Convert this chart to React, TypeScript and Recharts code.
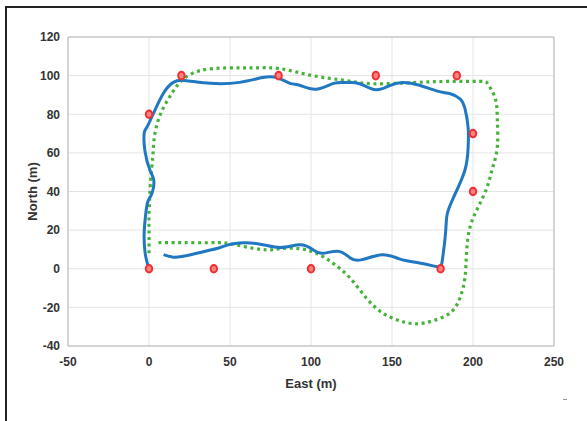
import {
  CartesianGrid,
  Label,
  ReferenceArea,
  Scatter,
  ScatterChart,
  XAxis,
  YAxis,
} from "recharts";

// estimated trajectory (blue, solid)
const trackEast = [
  0, -1.4, -2.5, -3, -2, -0.6, 1.8, 3, 0.6, -2.5, -3, -1.5, 2.5, 9, 15, 22, 38,
  56, 70, 79, 87, 93, 103, 114, 122, 130, 140, 149, 157, 167, 178, 186, 192,
  195, 197, 197, 195, 188, 184, 183, 181, 178, 167, 155, 144, 131, 124, 117,
  107, 101, 93, 81, 67, 52, 44, 36, 23, 15, 9,
];
const trackNorth = [
  0, 4, 9, 18, 28.5, 35, 39, 45.6, 51, 61, 70, 73, 80, 91, 96.5, 97.5, 96,
  96.5, 99, 99, 96, 95, 93, 96, 96.4, 95.8, 92.7, 95, 96.4, 95, 92, 90.6, 88,
  83, 73, 63, 51, 37, 28, 18, 4, 1, 3, 5, 7.3, 4.6, 5.7, 9, 8, 10, 12.4, 11,
  13, 13, 11, 9.3, 6.7, 6, 7.3,
];

// planned path (green, dotted)
const pathEast = [
  0, 0, 0, 1, 2.3, 3, 5, 9, 15, 21, 31.5, 48, 64, 81, 101, 122, 138, 163, 184,
  204, 209, 213.6, 215, 215, 212, 208.6, 203, 198, 196, 195, 192, 186, 175,
  165, 155, 144, 134, 124, 114, 104, 93, 81, 69, 50, 39.5, 20, 5.6,
];
const pathNorth = [
  8, 20, 28, 45.6, 57.5, 66, 75, 83.5, 92, 98, 102.6, 104, 104, 103.6, 100,
  97.4, 95.8, 96.4, 97, 97, 95.8, 88.6, 78, 63, 52, 42, 31.6, 21, 7.8, -4.7,
  -15, -22.8, -27, -28.5, -27, -22.8, -15, -4.7, 2.6, 7.8, 10.4, 10.4, 10, 13,
  13.5, 13.5, 13.5,
];

// waypoints (red)
const wpEast = [0, 40, 100, 180, 0, 20, 80, 140, 190, 200, 200];
const wpNorth = [0, 0, 0, 0, 80, 100, 100, 100, 100, 70, 40];

const xTicks = [-50, 0, 50, 100, 150, 200, 250];
const yTicks = [-40, -20, 0, 20, 40, 60, 80, 100, 120];

const toPoints = (xs: number[], ys: number[]) =>
  xs.map((x, i) => ({ x, y: ys[i] }));

const track = toPoints(trackEast, trackNorth);
const path = toPoints(pathEast, pathNorth);
const waypoints = toPoints(wpEast, wpNorth);

const FONT = "'Liberation Sans', Arial, sans-serif";
const TEXT = "#333333";
const BLUE = "#1f78c1";
const GREEN = "#45b23a";
const RED = "#f03030";

const tickStyle = { fill: TEXT, fontSize: 12, fontWeight: 700, fontFamily: FONT };

function Waypoint(props: any) {
  const { cx, cy } = props;
  return (
    <ellipse
      cx={cx}
      cy={cy}
      rx={3.2}
      ry={3.8}
      fill="#ff8080"
      stroke={RED}
      strokeWidth={2}
    />
  );
}

export default function App() {
  return (
    <div
      style={{
        position: "absolute",
        left: 0,
        top: 0,
        width: 587,
        height: 421,
        background: "#fff",
        overflow: "hidden",
      }}
    >
      <div
        style={{
          position: "absolute",
          left: 5,
          top: 6,
          width: 600,
          height: 430,
          borderTop: "2px solid #222",
          borderLeft: "2px solid #222",
        }}
      />
      <div
        style={{
          position: "absolute",
          left: 563,
          top: 399,
          width: 4,
          height: 1,
          background: "#999",
        }}
      />
      <ScatterChart
        width={587}
        height={421}
        margin={{ top: 37, right: 33, left: 28, bottom: 45 }}
        style={{ position: "absolute", left: 0, top: 0 }}
      >
        <CartesianGrid stroke="#e4e4e4" strokeWidth={1} />
        <XAxis
          type="number"
          dataKey="x"
          domain={[-50, 250]}
          ticks={xTicks}
          allowDataOverflow
          height={30}
          axisLine={false}
          tickLine={false}
          tick={tickStyle}
          tickMargin={5}
        >
          <Label
            value="East (m)"
            position="insideBottom"
            offset={-12}
            style={{ fill: TEXT, fontSize: 13, fontWeight: 700, fontFamily: FONT }}
          />
        </XAxis>
        <YAxis
          type="number"
          dataKey="y"
          domain={[-40, 120]}
          ticks={yTicks}
          allowDataOverflow
          width={40}
          axisLine={false}
          tickLine={false}
          tick={tickStyle}
          tickMargin={2}
        >
          <Label
            value="North (m)"
            angle={-90}
            position="insideLeft"
            offset={4}
            style={{
              fill: TEXT,
              fontSize: 13,
              fontWeight: 700,
              fontFamily: FONT,
              textAnchor: "middle",
            }}
          />
        </YAxis>
        <ReferenceArea
          x1={-50}
          x2={250}
          y1={-40}
          y2={120}
          fill="none"
          stroke="#b8b8b8"
          strokeWidth={1}
          ifOverflow="visible"
        />
        <Scatter
          data={path}
          line={{ stroke: GREEN, strokeWidth: 3.2, strokeDasharray: "3 3.6" }}
          lineType="joint"
          lineJointType="natural"
          shape={() => <g />}
          isAnimationActive={false}
        />
        <Scatter
          data={track}
          line={{ stroke: BLUE, strokeWidth: 3 }}
          lineType="joint"
          lineJointType="natural"
          shape={() => <g />}
          isAnimationActive={false}
        />
        <Scatter
          data={waypoints}
          shape={<Waypoint />}
          isAnimationActive={false}
        />
      </ScatterChart>
    </div>
  );
}
